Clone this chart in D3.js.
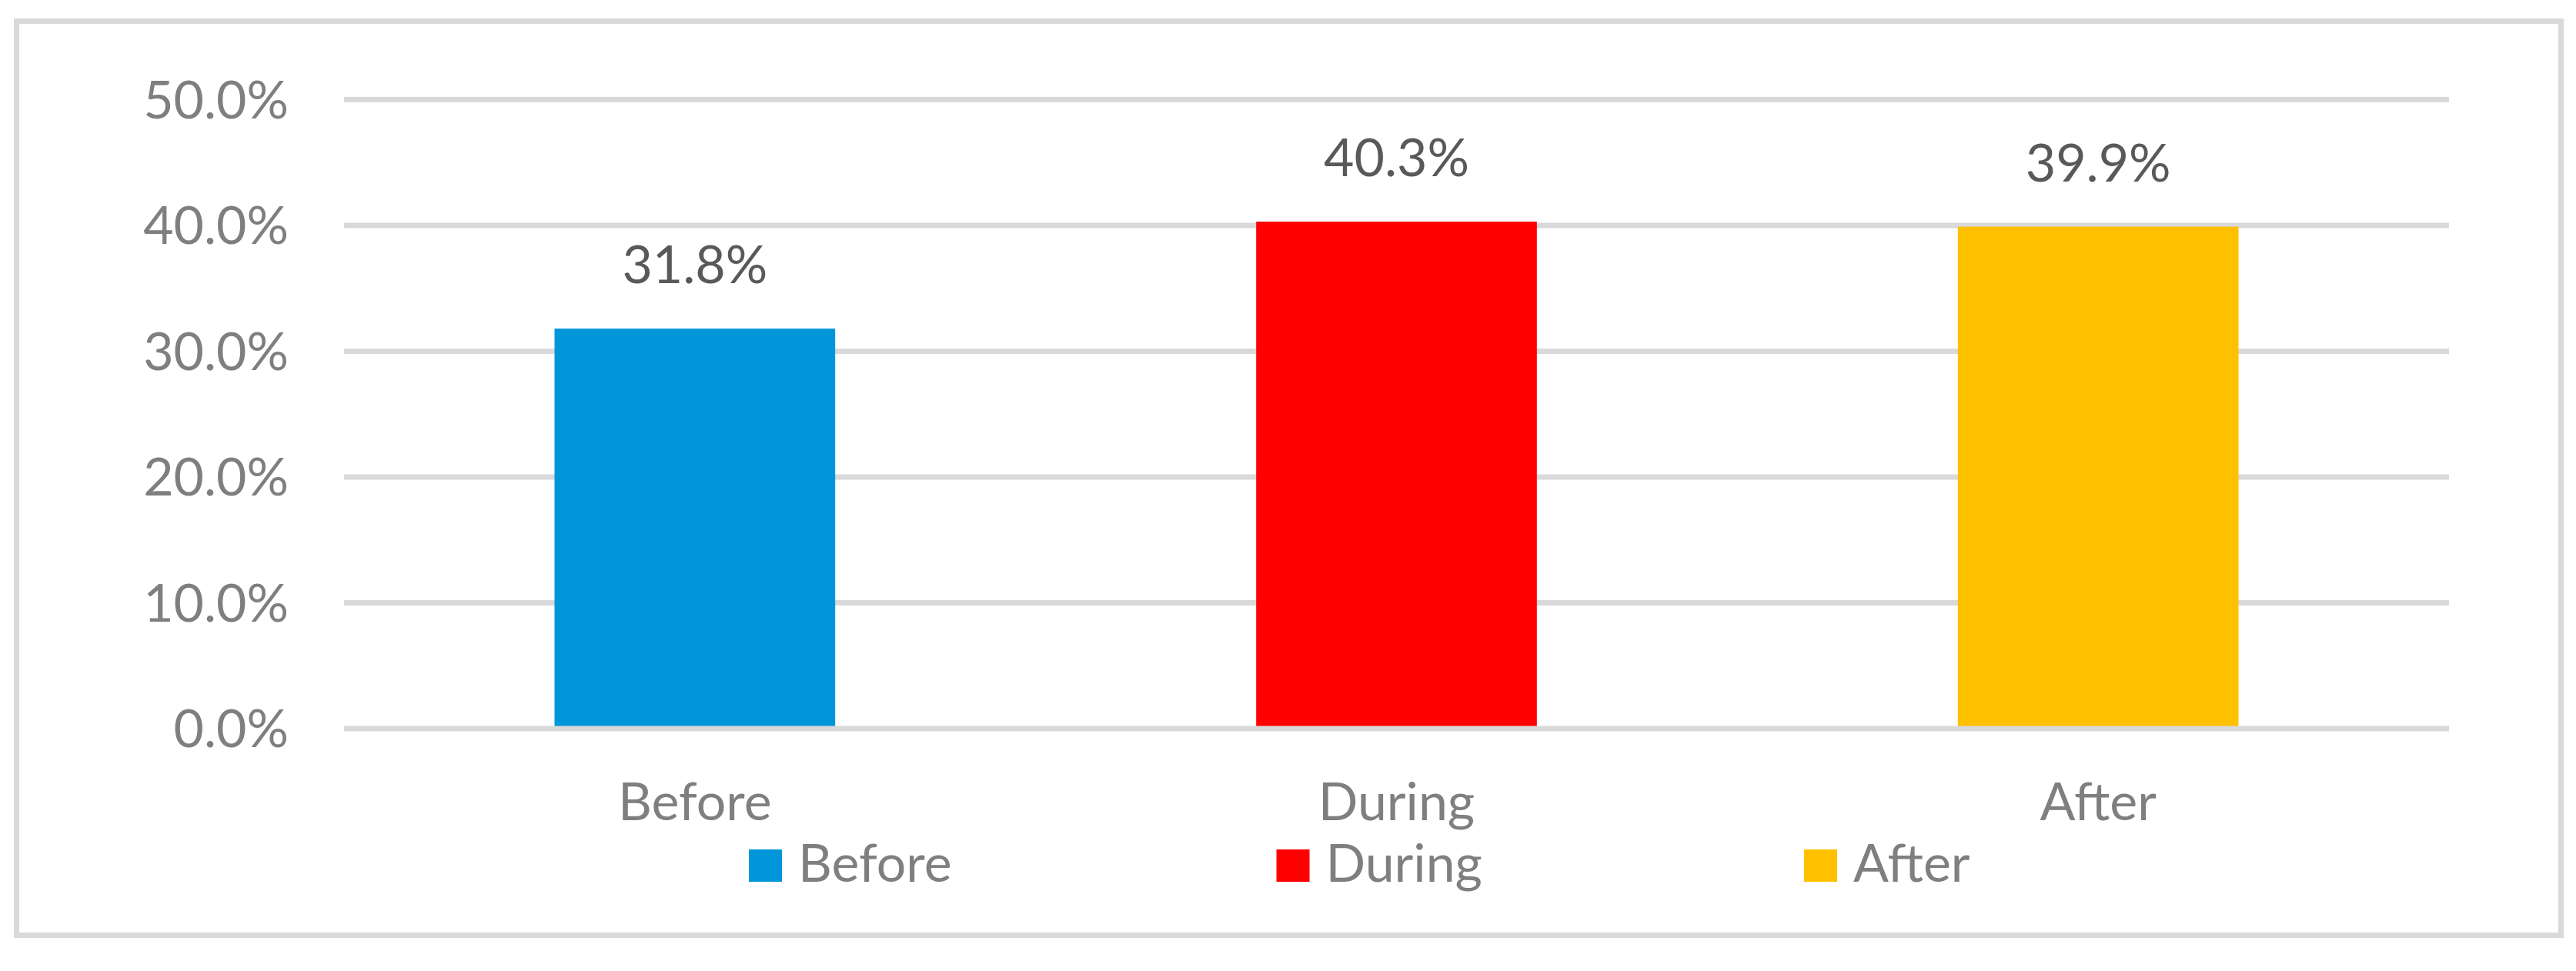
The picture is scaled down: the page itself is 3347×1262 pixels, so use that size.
<!DOCTYPE html>
<html>
<head>
<meta charset="utf-8">
<script src="https://cdn.jsdelivr.net/npm/d3@7"></script>
<style>
  html, body { margin: 0; padding: 0; background: #ffffff; }
  svg { display: block; }
  text { font-family: "Lato", "Liberation Sans", sans-serif; }
</style>
</head>
<body>
<svg id="chart" width="3347" height="1262"></svg>
<script>
// ---- data ----
const categories = ["Before", "During", "After"];
const values = [31.8, 40.3, 39.9];
const seriesColors = ["#0096DA", "#FF0000", "#FFC000"];
const yTicks = [0, 10, 20, 30, 40, 50];
const yTickLabels = ["0.0%", "10.0%", "20.0%", "30.0%", "40.0%", "50.0%"];
const legendLabels = ["Before", "During", "After"];

// ---- layout ----
const W = 3347, H = 1262;
const plot = { left: 447, right: 3182, top: 129.5, bottom: 947 };
const fontSize = 68;
const axisColor = "#7F7F7F";
const labelColor = "#595959";
const gridColor = "#D9D9D9";

const svg = d3.select("#chart");

// outer border
svg.append("rect")
  .attr("x", 21.5).attr("y", 27.5)
  .attr("width", 3306).attr("height", 1188)
  .attr("fill", "#ffffff")
  .attr("stroke", gridColor).attr("stroke-width", 7);

const x = d3.scaleBand()
  .domain(categories)
  .range([plot.left, plot.right])
  .paddingInner(0.6)
  .paddingOuter(0.3);

const y = d3.scaleLinear()
  .domain([0, 50])
  .range([plot.bottom, plot.top]);

// gridlines (excluding zero line, drawn later on top)
svg.append("g")
  .selectAll("line")
  .data(yTicks.filter(t => t !== 0))
  .join("line")
  .attr("x1", plot.left).attr("x2", plot.right)
  .attr("y1", d => y(d)).attr("y2", d => y(d))
  .attr("stroke", gridColor).attr("stroke-width", 7);

// y axis labels
const yAxis = d3.axisLeft(y)
  .tickValues(yTicks)
  .tickFormat((d, i) => yTickLabels[i])
  .tickSize(0)
  .tickPadding(72);
const yg = svg.append("g")
  .attr("transform", `translate(${plot.left},0)`)
  .call(yAxis);
yg.select(".domain").remove();
yg.selectAll("text")
  .attr("fill", axisColor)
  .style("font-size", fontSize + "px")
  .style("font-family", "Lato, 'Liberation Sans', sans-serif")
  .attr("dy", "0.35em");

// bars
svg.append("g")
  .selectAll("rect")
  .data(categories)
  .join("rect")
  .attr("x", d => x(d))
  .attr("width", x.bandwidth())
  .attr("y", (d, i) => y(values[i]))
  .attr("height", (d, i) => y(0) - y(values[i]))
  .attr("fill", (d, i) => seriesColors[i]);

// zero axis line on top
svg.append("line")
  .attr("x1", plot.left).attr("x2", plot.right)
  .attr("y1", y(0)).attr("y2", y(0))
  .attr("stroke", gridColor).attr("stroke-width", 7);

// data labels
svg.append("g")
  .selectAll("text")
  .data(categories)
  .join("text")
  .attr("x", d => x(d) + x.bandwidth() / 2)
  .attr("y", (d, i) => y(values[i]) - 59)
  .attr("text-anchor", "middle")
  .attr("fill", labelColor)
  .style("font-size", fontSize + "px")
  .text((d, i) => values[i].toFixed(1) + "%");

// x axis category labels
const xAxis = d3.axisBottom(x).tickSize(0).tickPadding(0);
const xg = svg.append("g")
  .attr("transform", `translate(0,${plot.bottom})`)
  .call(xAxis);
xg.select(".domain").remove();
xg.selectAll("text")
  .attr("fill", axisColor)
  .attr("dy", null)
  .attr("y", 119)
  .style("font-size", fontSize + "px")
  .style("font-family", "Lato, 'Liberation Sans', sans-serif");

// legend
const legendStart = 973, legendStep = 685.5, sw = 43, legendBaseline = 1146;
const lg = svg.append("g")
  .selectAll("g")
  .data(legendLabels)
  .join("g")
  .attr("transform", (d, i) => `translate(${legendStart + i * legendStep},0)`);
lg.append("rect")
  .attr("x", 0).attr("y", legendBaseline - 42)
  .attr("width", sw).attr("height", 42)
  .attr("fill", (d, i) => seriesColors[i]);
lg.append("text")
  .attr("x", sw + 21).attr("y", legendBaseline)
  .attr("fill", axisColor)
  .style("font-size", fontSize + "px")
  .text(d => d);
</script>
</body>
</html>
